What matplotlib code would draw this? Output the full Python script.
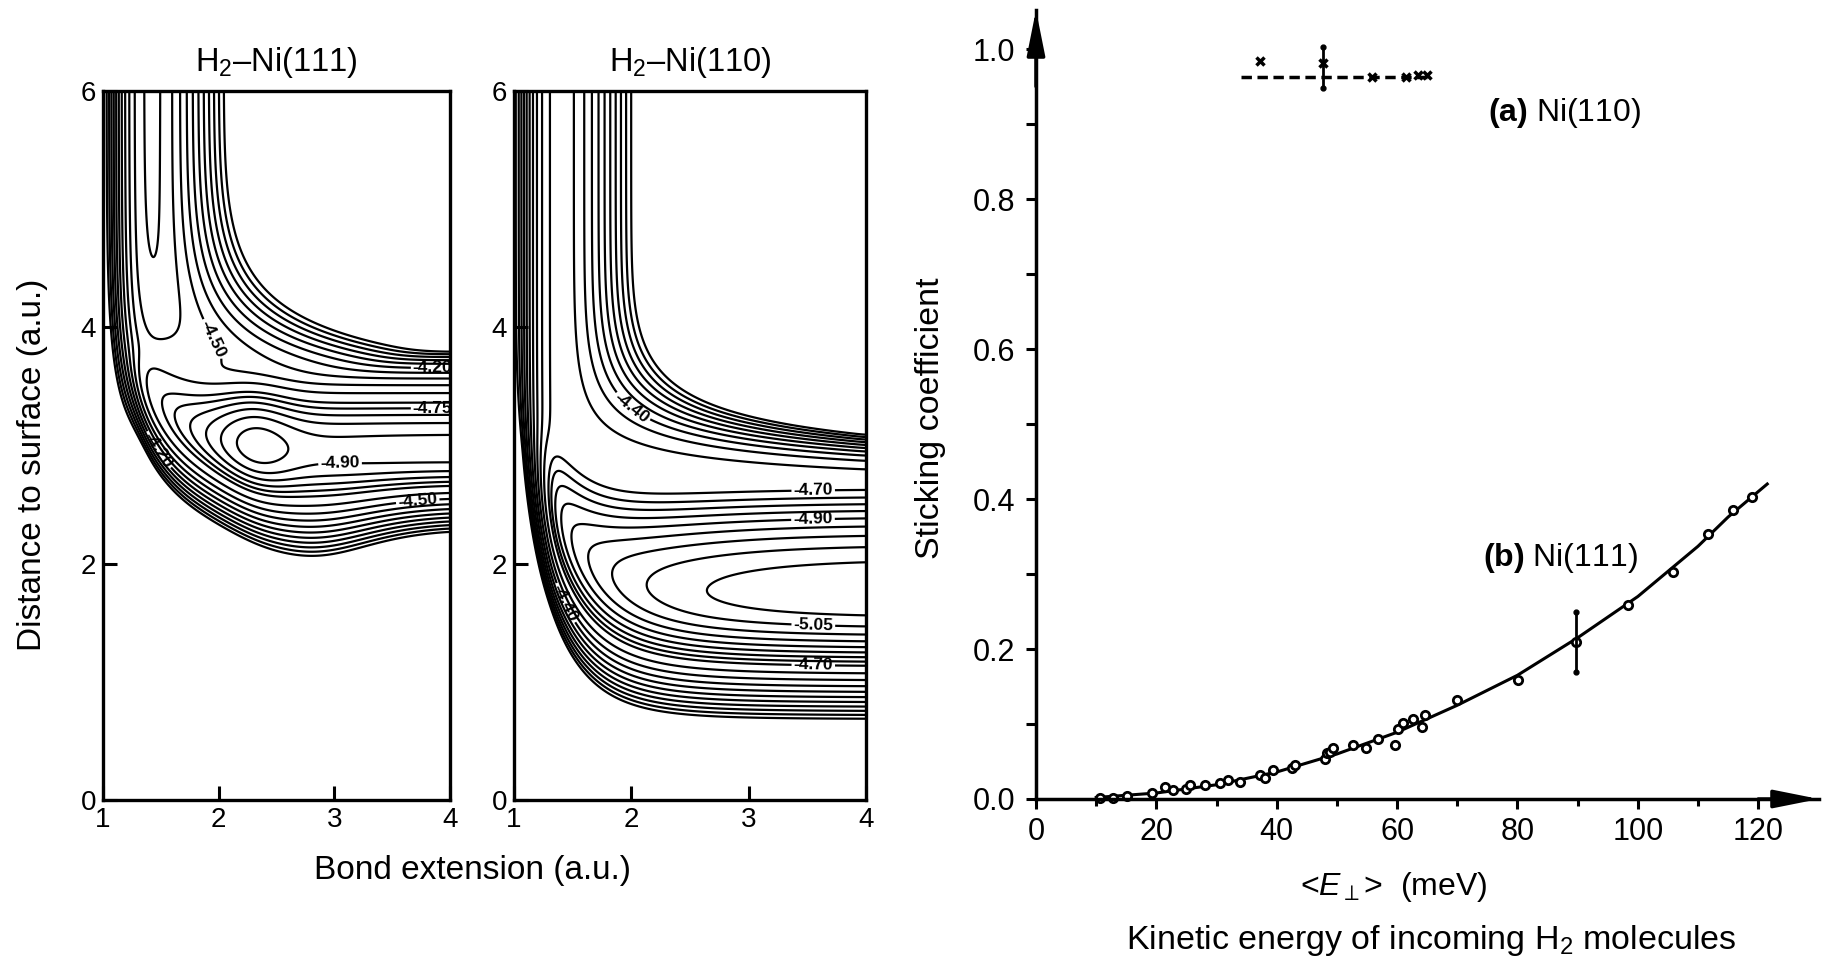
import numpy as np
import matplotlib
matplotlib.use("Agg")
import matplotlib.pyplot as plt

plt.rcParams['font.family'] = ['Liberation Sans', 'DejaVu Sans']
plt.rcParams['mathtext.fontset'] = 'custom'
plt.rcParams['mathtext.rm'] = 'Liberation Sans'
plt.rcParams['mathtext.it'] = 'Liberation Sans:italic'
plt.rcParams['mathtext.bf'] = 'Liberation Sans:bold'
plt.rcParams['contour.negative_linestyle'] = 'solid'

# ---------------- model potential energy surfaces (eV) ----------------
# molecular channel: depth, Morse range, bond length,
# approach-wall amp/height/width, wall lift at short bond and its length,
# bond-softening onset height and width, residual Morse range
GAS_111 = [4.735, 1.0, 1.42, 0.216, 3.62, 0.42, 0.35, 0.30, 3.20, 1.15, 0.01]
GAS_110 = [4.66, 1.0, 1.40, 0.05, 1.75, 0.30, 2.0, 0.31, 2.64, 0.90, 0.01]
# dissociative channel energy vs bond length: plateau, ramp amp/length,
# inner wall amp/position/width, dip depth/position/width
SURF_E_111 = [-4.93, 0.60, 0.50, 1.0, 1.15, 0.06, 0.10, 2.30, 0.35]
SURF_E_110 = [-5.15, 0.47, 0.72, 1.0, 1.15, 0.06, 0.00, 2.30, 0.35]
# height of the adsorption well: asymptote, elbow lift, lift length
SURF_Z_111 = [2.95, 1.6, 0.36]
SURF_Z_110 = [1.75, 2.2, 0.31]
# well shape: outer curvature, cliff amp/width, inner curvature, wall amp/width,
# inner softening depth/centre/width
SURF_P_111 = [1.3, 6e-5, 0.10, 2.7, 0.003, 0.25, 0.48, 2.8, 0.8]
SURF_P_110 = [0.6, 1.5e-6, 0.10, 1.1, 0.003, 0.25, 0.0, 2.8, 0.8]
SOFTNESS = 0.04      # eV, blending of the two channels
SMOOTH_AU = 0.05     # a.u., Gaussian smoothing of the surfaces
CEILING = -2.8       # eV, values above the highest contour are capped

LEVELS_111 = [-4.95, -4.90, -4.85, -4.80, -4.75, -4.70, -4.60, -4.50, -4.40,
              -4.30, -4.20, -4.10, -4.00, -3.90, -3.80, -3.70]
LEVELS_110 = [-5.10, -5.05, -5.00, -4.95, -4.90, -4.85, -4.80, -4.75, -4.70,
              -4.60, -4.50, -4.40, -4.30, -4.20, -4.10, -4.00, -3.90, -3.80, -3.70]
TAGGED_111 = [-4.90, -4.75, -4.50, -4.20]
TAGGED_110 = [-5.05, -4.90, -4.70, -4.40]
LABELS_111 = [(3.85, 3.75), (3.85, 3.22), (3.05, 2.75), (3.72, 2.54), (1.85, 3.85), (1.30, 2.85)]
LABELS_110 = [(1.95, 3.25), (3.55, 2.62), (3.55, 2.30), (3.55, 1.45), (3.55, 1.10), (1.40, 1.65)]

# ---------------- sticking coefficient data ----------------
e_111 = [10.6, 12.8, 15.1, 19.2, 21.4, 22.8, 25.0, 25.6, 28.1, 30.6, 31.9, 33.9,
         37.2, 38.0, 39.4, 42.5, 43.0, 48.0, 48.3, 48.8, 49.4, 52.7, 54.9, 56.9,
         59.6, 60.2, 61.0, 62.7, 64.1, 64.6, 69.9, 80.1, 89.8, 98.4, 105.9,
         111.7, 115.8, 118.9]
s_111 = [0.001, 0.002, 0.004, 0.008, 0.016, 0.012, 0.014, 0.019, 0.019, 0.021,
         0.025, 0.023, 0.032, 0.028, 0.039, 0.041, 0.045, 0.054, 0.061, 0.063,
         0.068, 0.072, 0.068, 0.080, 0.072, 0.094, 0.101, 0.107, 0.096, 0.112,
         0.132, 0.159, 0.210, 0.259, 0.303, 0.354, 0.385, 0.403]
fit_e_111 = [10, 20, 30, 40, 50, 60, 70, 80, 90, 100, 110, 115, 121.5]
fit_s_111 = [0.002, 0.008, 0.019, 0.036, 0.060, 0.089, 0.125, 0.165, 0.215,
             0.270, 0.337, 0.376, 0.420]
err_e_111 = 89.8
err_s_111 = (0.170, 0.250)

e_110 = [37.2, 47.7, 55.8, 61.5, 63.5, 65.0]
s_110 = [0.984, 0.981, 0.963, 0.963, 0.965, 0.965]
line_e_110 = [34.0, 65.0]
line_s_110 = [0.963, 0.963]
err_e_110 = 47.7
err_s_110 = (0.948, 1.003)

x_ticks = [0, 20, 40, 60, 80, 100, 120]
y_ticks = [0.0, 0.2, 0.4, 0.6, 0.8, 1.0]


def gas_channel(R, Z, p):
    depth, alpha, r_eq, amp, z_c, width, lift, lam, z_b, w_b, a_min = p
    soft = np.clip(Z - z_b, 0, None) / w_b
    a_out = alpha * (1.0 - np.exp(-soft ** 2)) + a_min
    a_eff = np.where(R < r_eq, alpha, a_out)
    morse = (1.0 - np.exp(-a_eff * (R - r_eq))) ** 2 - 1.0
    z_wall = z_c + lift * np.exp(-(R - 1.0) / lam)
    return depth * morse + amp * np.exp(-(Z - z_wall) / width)


def surface_channel(R, Z, pe, pz, pp):
    e0, k, lam, wall, r_w, w_w, dip, r_d, s_d = pe
    z0, lift, lam_z = pz
    c_up, a_up, w_up, c_lo, a_lo, w_lo, q, r_q, s_q = pp
    e_s = (e0 + k * np.exp(-(R - 1.0) / lam) + wall * np.exp(-(R - r_w) / w_w)
           - dip * np.exp(-((R - r_d) / s_d) ** 2))
    zs = z0 + lift * np.exp(-(R - 1.0) / lam_z)
    c_in = c_lo * (1.0 - q * np.exp(-((R - r_q) / s_q) ** 2))
    d = Z - zs
    du = np.clip(d, 0, None)
    dl = np.clip(-d, 0, None)
    up = c_up * d ** 2 + a_up * (np.exp(du / w_up) - 1 - du / w_up)
    lo = c_in * d ** 2 + a_lo * (np.exp(dl / w_lo) - 1 - dl / w_lo)
    return e_s + np.where(d > 0, up, lo)


def gaussian_smooth(V, sigma_px):
    n = int(3 * sigma_px)
    k = np.arange(-n, n + 1)
    g = np.exp(-0.5 * (k / sigma_px) ** 2)
    g /= g.sum()
    out = V
    for axis in (0, 1):
        pad = [(0, 0), (0, 0)]
        pad[axis] = (n, n)
        P = np.pad(out, pad, mode='edge')
        acc = np.zeros_like(out)
        size = out.shape[axis]
        for i, w in enumerate(g):
            acc += w * (P[i:i + size, :] if axis == 0 else P[:, i:i + size])
        out = acc
    return out


def pes(R, Z, gas, pe, pz, pp, step):
    vg = gas_channel(R, Z, gas)
    vs = surface_channel(R, Z, pe, pz, pp)
    V = -SOFTNESS * np.logaddexp(-vg / SOFTNESS, -vs / SOFTNESS)
    V = np.minimum(V, CEILING)
    return gaussian_smooth(V, SMOOTH_AU / step)


r = np.linspace(1.0, 4.0, 601)
z = np.linspace(0.0, 6.0, 1201)
step = r[1] - r[0]
R, Z = np.meshgrid(r, z)

W, H = 1822, 961
fig = plt.figure(figsize=(W / 100, H / 100), dpi=100)


def fx(px):
    return px / W


def fy(py):
    return 1 - py / H


ax1 = fig.add_axes([fx(103), fy(800), fx(450) - fx(103), fy(91) - fy(800)])
ax2 = fig.add_axes([fx(514), fy(800), fx(866) - fx(514), fy(91) - fy(800)])

panels = [
    (ax1, pes(R, Z, GAS_111, SURF_E_111, SURF_Z_111, SURF_P_111, step), LEVELS_111,
     TAGGED_111, LABELS_111),
    (ax2, pes(R, Z, GAS_110, SURF_E_110, SURF_Z_110, SURF_P_110, step), LEVELS_110,
     TAGGED_110, LABELS_110),
]
for ax, V, lev, tagged, lab in panels:
    plain = [v for v in lev if not np.any(np.isclose(v, tagged))]
    ax.contour(R, Z, V, levels=plain, colors='black', linewidths=1.6,
               linestyles='solid')
    cs = ax.contour(R, Z, V, levels=tagged, colors='black', linewidths=1.6,
                    linestyles='solid')
    txts = ax.clabel(cs, fmt='%.2f', manual=lab, inline=True,
                     fontsize=12.5, inline_spacing=2)
    for t in txts:
        t.set_fontweight('bold')
    ax.set_xlim(1, 4)
    ax.set_ylim(0, 6)
    ax.set_xticks([1, 2, 3, 4])
    ax.set_yticks([0, 2, 4, 6])
    ax.tick_params(direction='in', length=10, width=2.2, labelsize=20, pad=5)
    for sp in ax.spines.values():
        sp.set_linewidth(2.4)

fig.text(fx(276), fy(63), 'H$_2$–Ni(111)', fontsize=23.5, ha='center', va='center')
fig.text(fx(690), fy(63), 'H$_2$–Ni(110)', fontsize=23.5, ha='center', va='center')
fig.text(fx(33), fy(465), 'Distance to surface (a.u.)', fontsize=24, rotation=90,
         ha='center', va='center')
fig.text(fx(472), fy(871), 'Bond extension (a.u.)', fontsize=24, ha='center', va='center')

# ---------------- sticking coefficient panel ----------------
ax3 = fig.add_axes([fx(1036), fy(799), fx(1819) - fx(1036), fy(10) - fy(799)])
ax3.set_xlim(0, 130.1)
ax3.set_ylim(0, 1.052)
for side in ('top', 'right'):
    ax3.spines[side].set_visible(False)
for side in ('left', 'bottom'):
    ax3.spines[side].set_linewidth(2.5)
ax3.set_xticks(x_ticks)
ax3.set_xticklabels([str(v) for v in x_ticks])
ax3.set_yticks(y_ticks)
ax3.set_yticklabels(['%.1f' % v for v in y_ticks])
ax3.set_xticks([10, 30, 50, 70, 90, 110], minor=True)
ax3.set_yticks([0.1, 0.3, 0.5, 0.7, 0.9], minor=True)
ax3.tick_params(axis='both', which='major', direction='out', length=7, width=2.2,
                labelsize=22)
ax3.tick_params(axis='y', which='major', pad=8)
ax3.tick_params(axis='x', which='major', pad=6)
ax3.tick_params(axis='y', which='minor', direction='out', length=7, width=2.2)
ax3.tick_params(axis='x', which='minor', direction='out', length=5, width=2.2)

arrow = dict(arrowstyle='-|>,head_length=1.1,head_width=0.22', lw=2.5, color='black',
             shrinkA=0, shrinkB=0, mutation_scale=25)
ax3.annotate('', xy=(0, 1.052), xytext=(0, 0.95), arrowprops=arrow, annotation_clip=False)
ax3.annotate('', xy=(130.1, 0), xytext=(120, 0), arrowprops=arrow, annotation_clip=False)

# Ni(111)
ax3.plot(fit_e_111, fit_s_111, color='black', lw=2.2, clip_on=False)
ax3.plot(e_111, s_111, 'o', ms=6, mfc='white', mec='black', mew=2.0, clip_on=False)
ax3.plot([err_e_111, err_e_111], err_s_111, color='black', lw=2.0)
ax3.plot([err_e_111, err_e_111], err_s_111, '.', color='black', ms=7)

# Ni(110)
ax3.plot(line_e_110, line_s_110, color='black', lw=2.5, ls=(0, (3, 1.6)))
ax3.plot(e_110, s_110, 'x', ms=6, mec='black', mew=2.5)
ax3.plot([err_e_110, err_e_110], err_s_110, color='black', lw=2.0)
ax3.plot([err_e_110, err_e_110], err_s_110, '.', color='black', ms=7)

ax3.text(75.1, 0.915, r'$\mathbf{(a)}$ Ni(110)', fontsize=23, ha='left', va='center')
ax3.text(74.2, 0.321, r'$\mathbf{(b)}$ Ni(111)', fontsize=23, ha='left', va='center')

fig.text(fx(930), fy(418), 'Sticking coefficient', fontsize=24.5, rotation=90,
         ha='center', va='center')
fig.text(fx(1394), fy(887), r'<$E_{\perp}$>  (meV)', fontsize=23, ha='center', va='center')
fig.text(fx(1431), fy(941), 'Kinetic energy of incoming H$_2$ molecules', fontsize=24.5,
         ha='center', va='center')

fig.savefig('out.png', dpi=100)
